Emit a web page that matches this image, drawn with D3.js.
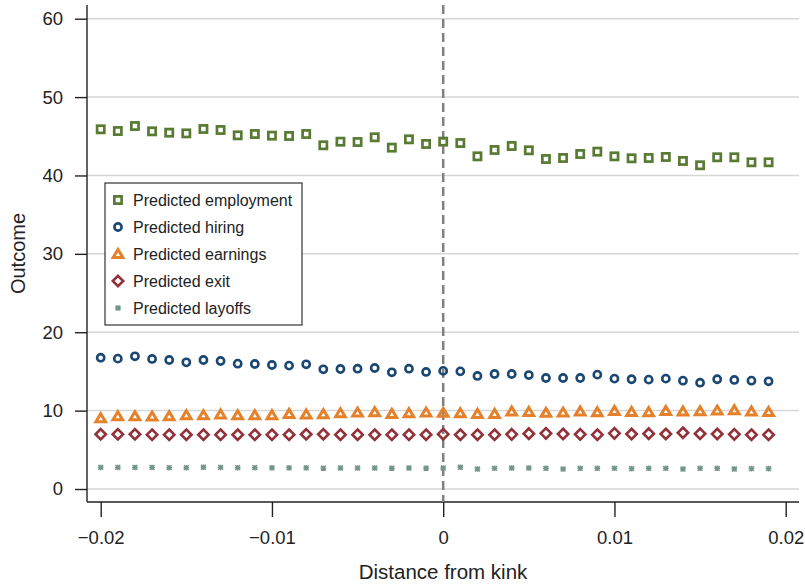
<!DOCTYPE html>
<html>
<head>
<meta charset="utf-8">
<script src="https://cdn.jsdelivr.net/npm/d3@7"></script>
<style>
body { margin: 0; background: #fff; }
text { font-family: "Liberation Sans", Arial, Helvetica, sans-serif; fill: #222; }
</style>
</head>
<body>
<div id="chart"></div>
<script>
//Data
var distance = d3.range(-20, 20).map(function(i) { return i / 1000; });

var employment = [45.89, 45.67, 46.31, 45.63, 45.46, 45.37, 45.93, 45.80, 45.12, 45.29,
	45.08, 45.04, 45.29, 43.85, 44.31, 44.27, 44.87, 43.55, 44.61, 44.02,
	44.32, 44.14, 42.44, 43.25, 43.76, 43.21, 42.10, 42.23, 42.74, 43.04,
	42.44, 42.19, 42.23, 42.36, 41.85, 41.30, 42.32, 42.32, 41.68, 41.68];
var hiring = [16.75, 16.63, 16.93, 16.59, 16.46, 16.16, 16.46, 16.33, 15.99, 15.95,
	15.82, 15.74, 15.91, 15.27, 15.31, 15.35, 15.44, 14.89, 15.35, 14.93,
	15.07, 15.01, 14.42, 14.67, 14.67, 14.54, 14.16, 14.16, 14.16, 14.59,
	14.08, 14.00, 13.95, 14.08, 13.82, 13.56, 14.00, 13.91, 13.82, 13.74];
var earnings = [9.02, 9.27, 9.27, 9.23, 9.27, 9.40, 9.40, 9.49, 9.40, 9.40,
	9.40, 9.57, 9.49, 9.53, 9.66, 9.74, 9.78, 9.57, 9.66, 9.74,
	9.70, 9.66, 9.57, 9.57, 9.87, 9.82, 9.70, 9.74, 9.87, 9.78,
	9.95, 9.82, 9.78, 9.95, 9.87, 9.91, 9.99, 10.04, 9.87, 9.82];
var exit = [6.98, 6.98, 6.98, 6.93, 6.93, 6.93, 6.93, 6.93, 6.93, 6.93,
	6.93, 6.93, 6.98, 6.98, 6.93, 6.93, 6.93, 6.93, 6.93, 6.93,
	7.00, 6.93, 6.93, 6.93, 6.97, 7.06, 7.10, 7.02, 6.97, 6.93,
	7.10, 7.02, 7.06, 7.02, 7.18, 7.06, 7.02, 6.97, 6.93, 6.93];
var layoffs = [2.75, 2.75, 2.75, 2.75, 2.72, 2.72, 2.77, 2.75, 2.72, 2.72,
	2.70, 2.70, 2.70, 2.65, 2.68, 2.68, 2.68, 2.65, 2.68, 2.65,
	2.68, 2.77, 2.55, 2.64, 2.68, 2.68, 2.64, 2.55, 2.64, 2.64,
	2.64, 2.60, 2.64, 2.64, 2.55, 2.64, 2.64, 2.55, 2.60, 2.60];

var seriesNames = ["Predicted employment", "Predicted hiring", "Predicted earnings", "Predicted exit", "Predicted layoffs"];
var yTicks = [0, 10, 20, 30, 40, 50, 60];
var xTicks = [-0.02, -0.01, 0, 0.01, 0.02];

var series = [
	{name: seriesNames[0], values: employment, shape: "square", color: "#587a33"},
	{name: seriesNames[1], values: hiring, shape: "circle", color: "#1b4872"},
	{name: seriesNames[2], values: earnings, shape: "triangle", color: "#e5812a"},
	{name: seriesNames[3], values: exit, shape: "diamond", color: "#923238"},
	{name: seriesNames[4], values: layoffs, shape: "star", color: "#74968a"}
];

var w = 805, h = 585;
//plot edges (not "top": that name is taken by window.top)
var plotL = 87, plotR = 799, plotT = 5, plotB = 502;

var svg = d3.select("#chart").append("svg")
	.attr("width", w)
	.attr("height", h);

var x = d3.scaleLinear().domain([-0.02, 0.02]).range([100.7, 785.7]);
var y = d3.scaleLinear().domain([0, 60]).range([489, 18.7]);

//Gridlines
svg.append("g").selectAll("line")
	.data(yTicks).enter().append("line")
	.attr("x1", plotL).attr("x2", plotR)
	.attr("y1", function(d) { return y(d); })
	.attr("y2", function(d) { return y(d); })
	.style("stroke", "#d6d6d6")
	.style("stroke-width", 1.5);

//Axes
var yAxis = svg.append("g")
	.attr("transform", "translate(" + plotL + ",0)")
	.call(d3.axisLeft(y).tickValues(yTicks).tickSize(12).tickPadding(12).tickFormat(d3.format("d")));
yAxis.select(".domain").attr("d", "M0," + plotT + "V" + plotB);

var xAxis = svg.append("g")
	.attr("transform", "translate(0," + plotB + ")")
	.call(d3.axisBottom(x).tickValues(xTicks).tickSize(15).tickPadding(14)
		.tickFormat(function(d) { return d === 0 ? "0" : d3.format(".2f")(d).replace("-", "\u2212"); }));
xAxis.select(".domain").attr("d", "M" + plotL + ",0H" + plotR);

svg.selectAll(".tick line").style("stroke", "#222").style("stroke-width", 1.4);
svg.selectAll(".domain").style("stroke", "#222").style("stroke-width", 1.4);
svg.selectAll(".tick text").style("font-size", "18.5px").style("fill", "#222")
	.style("font-family", "'Liberation Sans', Arial, sans-serif");

//Axis titles
svg.append("text")
	.attr("transform", "translate(25," + ((plotT + plotB) / 2) + ") rotate(-90)")
	.attr("text-anchor", "middle")
	.style("font-size", "20px")
	.text("Outcome");

svg.append("text")
	.attr("x", (plotL + plotR) / 2)
	.attr("y", 579)
	.attr("text-anchor", "middle")
	.style("font-size", "20.5px")
	.text("Distance from kink");

//Kink line
svg.append("line")
	.attr("x1", x(0)).attr("x2", x(0))
	.attr("y1", plotT).attr("y2", plotB)
	.style("stroke", "#808080")
	.style("stroke-width", 2.5)
	.style("stroke-dasharray", "9,5");

//Marker drawing
function drawMarker(sel, shape, color) {
	if (shape === "square") {
		sel.append("rect").attr("x", -3.6).attr("y", -3.6).attr("width", 7.2).attr("height", 7.2)
			.style("fill", "none").style("stroke", color).style("stroke-width", 2.7);
	} else if (shape === "circle") {
		sel.append("circle").attr("r", 3.6)
			.style("fill", "none").style("stroke", color).style("stroke-width", 2.6);
	} else if (shape === "triangle") {
		sel.append("path").attr("d", "M0,-4.6L4.8,3.4L-4.8,3.4Z")
			.style("fill", "none").style("stroke", color).style("stroke-width", 3)
			.style("stroke-linejoin", "miter");
	} else if (shape === "diamond") {
		sel.append("path").attr("d", "M0,-5.2L5.2,0L0,5.2L-5.2,0Z")
			.style("fill", "none").style("stroke", color).style("stroke-width", 2.6);
	} else {
		sel.append("path").attr("d", "M-2.4,-2.4L2.4,2.4M-2.4,2.4L2.4,-2.4M0,-2.8V2.8M-2.8,0H2.8")
			.style("fill", "none").style("stroke", color).style("stroke-width", 1.5);
	}
}

series.forEach(function(s) {
	svg.append("g").attr("class", "series")
		.selectAll("g")
		.data(s.values).enter().append("g")
		.attr("transform", function(d, i) { return "translate(" + x(distance[i]) + "," + y(d) + ")"; })
		.each(function() { drawMarker(d3.select(this), s.shape, s.color); });
});

//Legend
var legend = svg.append("g").attr("class", "legend");
legend.append("rect")
	.attr("x", 105).attr("y", 183)
	.attr("width", 197).attr("height", 142)
	.style("fill", "white").style("stroke", "#333").style("stroke-width", 1.2);

var item = legend.selectAll("g.item")
	.data(series).enter().append("g")
	.attr("class", "item")
	.attr("transform", function(d, i) { return "translate(118," + (200 + i * 27) + ")"; });
item.each(function(d) { drawMarker(d3.select(this), d.shape, d.color); });
item.append("text")
	.attr("x", 15).attr("y", 5.5)
	.style("font-size", "16px")
	.text(function(d) { return d.name; });
</script>
</body>
</html>
